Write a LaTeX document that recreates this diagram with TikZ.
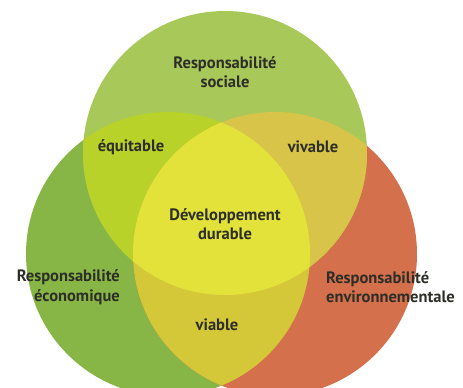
\documentclass[tikz,border=0pt]{standalone}
\usepackage{fontspec}
\setmainfont{PT Sans}
\usetikzlibrary{positioning}
\definecolor{msocial}{RGB}{168, 200, 90}
\definecolor{meco}{RGB}{136, 182, 70}
\definecolor{menv}{RGB}{212, 112, 76}
\definecolor{mequit}{RGB}{184, 210, 42}
\definecolor{mvivab}{RGB}{216, 196, 72}
\definecolor{mviab}{RGB}{212, 200, 56}
\definecolor{mdur}{RGB}{226, 226, 58}
\definecolor{mtext}{RGB}{46, 46, 40}

\begin{document}
\begin{tikzpicture}[x=1pt, y=-1pt,
    lbl/.style={text=mtext, font=\bfseries\fontsize{16.5}{19.5}\selectfont, inner sep=0pt}]
    \useasboundingbox (0, 0) rectangle (463, 388);
    \clip (0, 0) rectangle (463, 388);
    \def\rad{142pt}
    \coordinate (ctop) at (225, 153);
    \coordinate (cleft) at (168, 254);
    \coordinate (cright) at (275, 254);

    \fill [meco] (cleft) circle [radius=\rad];
    \fill [menv] (cright) circle [radius=\rad];
    \fill [msocial] (ctop) circle [radius=\rad];

    \begin{scope}
      \clip (ctop) circle [radius=\rad];
      \fill [mequit] (cleft) circle [radius=\rad];
      \fill [mvivab] (cright) circle [radius=\rad];
    \end{scope}
    \begin{scope}
      \clip (cleft) circle [radius=\rad];
      \fill [mviab] (cright) circle [radius=\rad];
      \clip (cright) circle [radius=\rad];
      \fill [mdur] (ctop) circle [radius=\rad];
    \end{scope}

    \node [lbl, align=center] (social) at (225, 72) {Responsabilité\\sociale};
    \node [lbl] (equit) at (131, 147) {équitable};
    \node [lbl] (vivab) at (313, 147) {vivable};
    \node [lbl, align=center] (durable) at (225, 224) {Développement\\durable};
    \node [lbl, align=right, anchor=east] (eco) at (120, 287) {Responsabilité\\économique};
    \node [lbl, align=left, anchor=west] (env) at (326, 287) {Responsabilité\\environnementale};
    \node [lbl] (viab) at (217, 325) {viable};
  \end{tikzpicture}
\end{document}
